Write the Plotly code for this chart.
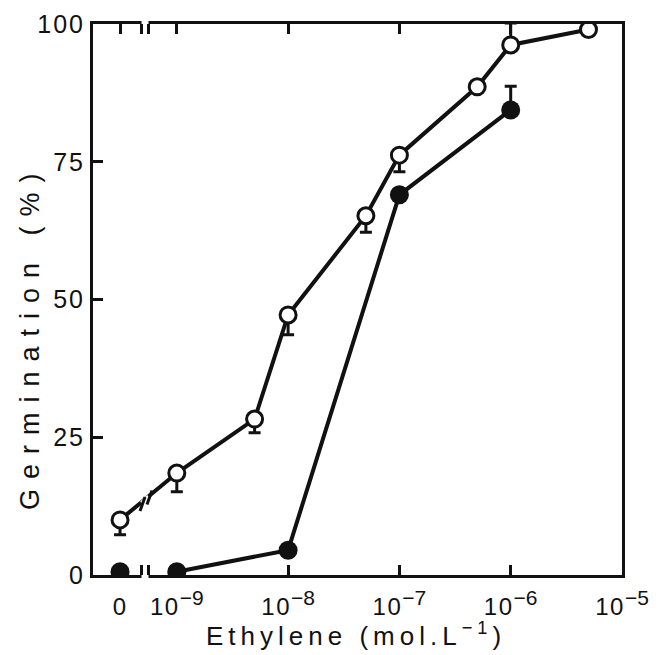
import plotly.graph_objects as go

# ---------------- data ----------------
conc_open = [0, 1e-9, 5e-9, 1e-8, 5e-8, 1e-7, 5e-7, 1e-6, 5e-6]
germ_open = [10.0, 18.5, 28.3, 47.2, 65.2, 76.2, 88.6, 96.2, 99.0]
err_open_minus = [2.7, 3.4, 2.5, 3.6, 3.0, 3.0, 0, 0, 0]
err_open_plus = [0, 0, 0, 0, 0, 0, 0, 4.0, 0]

conc_filled = [0, 1e-9, 1e-8, 1e-7, 1e-6]
germ_filled = [0.6, 0.6, 4.5, 69.0, 84.4]
err_filled_plus = [0, 0, 0, 0, 4.3]

x_tick_vals = [0, 1e-9, 1e-8, 1e-7, 1e-6, 1e-5]
x_tick_base = ["0", "10", "10", "10", "10", "10"]
x_tick_exp = ["", "−9", "−8", "−7", "−6", "−5"]
y_tick_vals = [0, 25, 50, 75, 100]
y_tick_labels = ["0", "25", "50", "75", "100"]

x_title = "Ethylene (mol.L<sup>−1</sup>)"
y_title = "Germination (%)"

# ---------------- layout constants ----------------
ZERO_AT = 10 ** -9.51          # position of the 0 control on the broken log axis
FONT = "Liberation Sans, Arial, Helvetica, sans-serif"
INK = "#111111"
PAGE = 8                        # default page margin of the browser
L, R, T, B = 93, 36, 24, 80     # wanted plot frame, in window pixels
W, H = 658, 655
PW, PH = W - L - R, H - T - B


def xpos(c):
    return ZERO_AT if c == 0 else c


def xd(px):
    return (px - L) / PW


def yd(py):
    return (H - B - py) / PH


def spaced(s, sp):
    return f'<span style="letter-spacing:{sp}px">{s}</span>'


def xlabel(base, exp):
    if not exp:
        return spaced(base, 1.5)
    return spaced(base, 1.5) + f'<sup><span style="font-size:21px">{exp}</span></sup>'


fig = go.Figure()

# open circles
fig.add_trace(go.Scatter(
    x=[xpos(c) for c in conc_open], y=germ_open,
    mode="lines+markers",
    line=dict(color=INK, width=4),
    marker=dict(symbol="circle", size=16, color="white",
                line=dict(color=INK, width=3)),
    error_y=dict(type="data", symmetric=False, array=err_open_plus,
                 arrayminus=err_open_minus, color=INK, thickness=3, width=6),
    showlegend=False,
))

# filled circles: control (0) is not joined to the rest
fig.add_trace(go.Scatter(
    x=[xpos(c) for c in conc_filled[:1]], y=germ_filled[:1],
    mode="markers",
    marker=dict(symbol="circle", size=19, color=INK, line=dict(width=0)),
    showlegend=False,
))
fig.add_trace(go.Scatter(
    x=[xpos(c) for c in conc_filled[1:]], y=germ_filled[1:],
    mode="lines+markers",
    line=dict(color=INK, width=4),
    marker=dict(symbol="circle", size=19, color=INK, line=dict(width=0)),
    error_y=dict(type="data", symmetric=False, array=err_filled_plus[1:],
                 arrayminus=[0] * (len(conc_filled) - 1),
                 color=INK, thickness=3, width=6),
    showlegend=False,
))

shapes = []
# axis break on bottom and top axes
for ybase, direction in ((0.0, 1), (1.0, -1)):
    shapes.append(dict(type="line", xref="x domain", yref="y domain",
                       x0=xd(141.5), x1=xd(148.5), y0=ybase, y1=ybase,
                       line=dict(color="white", width=6)))
    for px in (141.5, 148.5):
        shapes.append(dict(type="line", xref="x domain", yref="y domain",
                           x0=xd(px), x1=xd(px), y0=ybase,
                           y1=ybase + direction * 10 / PH,
                           line=dict(color=INK, width=3)))

# "//" break mark on the open-circle line
shapes.append(dict(type="line", xref="x domain", yref="y domain",
                   x0=xd(142.5), y0=yd(504), x1=xd(149.5), y1=yd(497.5),
                   line=dict(color="white", width=7)))
for cx, cy in ((142.5, 504), (149.5, 497.5)):
    shapes.append(dict(type="line", xref="x domain", yref="y domain",
                       x0=xd(cx - 2.5), y0=yd(cy + 7), x1=xd(cx + 2.5), y1=yd(cy - 7),
                       line=dict(color=INK, width=3)))

fig.update_layout(
    width=W - PAGE, height=H - PAGE,
    margin=dict(l=L - PAGE, r=R, t=T - PAGE, b=B, autoexpand=False),
    paper_bgcolor="white", plot_bgcolor="white",
    font=dict(family=FONT, color=INK, size=24),
    shapes=shapes,
    annotations=[
        dict(text=spaced(x_title, 5), xref="paper", yref="paper",
             x=xd(356), y=yd(634), xanchor="center", yanchor="middle",
             showarrow=False, font=dict(size=26, family=FONT, color=INK)),
        dict(text=spaced(y_title, 10), xref="paper", yref="paper",
             x=xd(30), y=yd(337), xanchor="center", yanchor="middle",
             textangle=-90, showarrow=False,
             font=dict(size=27, family=FONT, color=INK)),
    ],
)

fig.update_xaxes(
    type="log", range=[-9.753, -5.0], automargin=False,
    tickmode="array", tickvals=[xpos(v) for v in x_tick_vals],
    ticktext=[xlabel(b, e) for b, e in zip(x_tick_base, x_tick_exp)],
    ticks="inside", ticklen=10, tickwidth=3, tickcolor=INK,
    ticklabelstandoff=8,
    showline=True, linecolor=INK, linewidth=3, mirror="ticks",
    showgrid=False, zeroline=False,
    tickfont=dict(size=24, family=FONT, color=INK),
)
fig.update_yaxes(
    range=[0, 100], automargin=False,
    tickmode="array", tickvals=y_tick_vals,
    ticktext=[spaced(t, 2) for t in y_tick_labels],
    ticks="inside", ticklen=10, tickwidth=3, tickcolor=INK,
    showline=True, linecolor=INK, linewidth=3, mirror=True,
    showgrid=False, zeroline=False,
    tickfont=dict(size=25, family=FONT, color=INK),
)

fig.write_html("out.html")
